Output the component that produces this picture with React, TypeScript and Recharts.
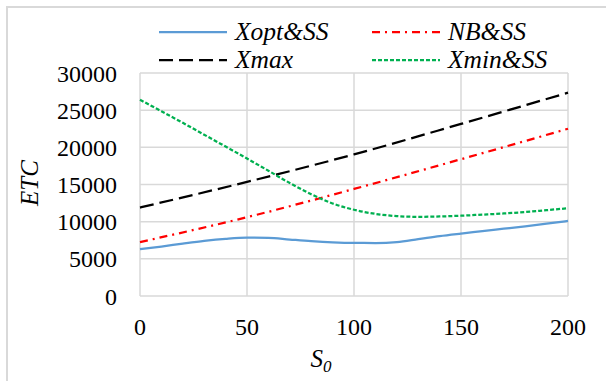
import { LineChart, Line, XAxis, YAxis, CartesianGrid, Label } from "recharts";

// x positions (S0)
const xFine = [0, 10, 20, 30, 40, 50, 60, 70, 80, 90, 100, 110, 120, 130, 140, 150, 160, 170, 180, 190, 200];
const xCoarse = [0, 50, 100, 150, 200];

const xoptSS = [6300, 6650, 7050, 7420, 7700, 7860, 7830, 7600, 7380, 7220, 7140, 7130, 7260, 7650, 8060, 8400, 8720, 9050, 9380, 9730, 10100];
const xminSS = [26400, 24850, 23300, 21700, 20100, 18500, 16850, 15200, 13700, 12450, 11600, 11050, 10750, 10650, 10700, 10800, 10950, 11100, 11300, 11550, 11800];
const nbSS = [7250, 10600, 14400, 18400, 22500];
const xmax = [11900, 15350, 19050, 23150, 27350];

const xTicks = [0, 50, 100, 150, 200];
const yTicks = [0, 5000, 10000, 15000, 20000, 25000, 30000];

const toRows = (xs: number[], ys: number[]) => xs.map((x, i) => ({ x, y: ys[i] }));

const SERIES = [
  { name: "Xopt&SS", data: toRows(xFine, xoptSS), color: "#5B9BD5", dash: undefined, width: 2.25 },
  { name: "NB&SS", data: toRows(xCoarse, nbSS), color: "#FF0000", dash: "8 5 2 5", width: 2.25 },
  { name: "Xmax", data: toRows(xCoarse, xmax), color: "#000000", dash: "14 6", width: 2.25 },
  { name: "Xmin&SS", data: toRows(xFine, xminSS), color: "#00B050", dash: "4 2", width: 2.25 },
];

const FONT = "Liberation Serif";

function ChartLegend() {
  // two rows, two columns, like the Excel legend
  const slots = [
    { x: 159, y: 32 },
    { x: 372, y: 32 },
    { x: 159, y: 60 },
    { x: 372, y: 60 },
  ];
  return (
    <svg width={606} height={73} style={{ position: "absolute", left: 0, top: 0 }}>
      {SERIES.map((s, i) => (
        <g key={s.name}>
          <line
            x1={slots[i].x}
            x2={slots[i].x + 68}
            y1={slots[i].y}
            y2={slots[i].y}
            stroke={s.color}
            strokeWidth={s.width}
            strokeDasharray={s.dash}
          />
          <text x={slots[i].x + 76} y={slots[i].y + 8} fontFamily={FONT} fontStyle="italic" fontSize={25.5} fill="#000">
            {s.name}
          </text>
        </g>
      ))}
    </svg>
  );
}

export default function App() {
  return (
    <div style={{ position: "absolute", left: 0, top: 0, width: 606, height: 381, overflow: "hidden", background: "#fff" }}>
      <div
        style={{
          position: "absolute",
          left: 6,
          top: 6,
          width: 700,
          height: 500,
          borderTop: "2px solid #D9D9D9",
          borderLeft: "2px solid #D9D9D9",
        }}
      />
      <LineChart width={606} height={381} margin={{ top: 73, right: 38, bottom: 0, left: 0 }}>
        <CartesianGrid stroke="#D9D9D9" strokeWidth={1.5} horizontalValues={yTicks} verticalValues={xTicks} />
        <XAxis
          dataKey="x"
          type="number"
          domain={[0, 200]}
          ticks={xTicks}
          interval={0}
          axisLine={false}
          tickLine={false}
          tickSize={0}
          tickMargin={22}
          height={85}
          allowDuplicatedCategory={false}
          tick={{ fill: "#000", fontSize: 24, fontFamily: FONT }}
        >
          <Label
            content={() => (
              <text x={321} y={367} textAnchor="middle" fontFamily={FONT} fontStyle="italic" fontSize={25} fill="#000">
                S
                <tspan fontSize={17} dy={5}>0</tspan>
              </text>
            )}
          />
        </XAxis>
        <YAxis
          type="number"
          domain={[0, 30000]}
          ticks={yTicks}
          interval={0}
          axisLine={false}
          tickLine={false}
          tickSize={0}
          tickMargin={23}
          width={140}
          tick={{ fill: "#000", fontSize: 24, fontFamily: FONT }}
        >
          <Label
            content={() => (
              <text
                x={29}
                y={183}
                transform="rotate(-90 29 183)"
                textAnchor="middle"
                dominantBaseline="central"
                fontFamily={FONT}
                fontStyle="italic"
                fontSize={25}
                fill="#000"
              >
                ETC
              </text>
            )}
          />
        </YAxis>
        {SERIES.map((s) => (
          <Line
            key={s.name}
            data={s.data}
            dataKey="y"
            name={s.name}
            type="monotone"
            stroke={s.color}
            strokeWidth={s.width}
            strokeDasharray={s.dash}
            dot={false}
            activeDot={false}
            isAnimationActive={false}
          />
        ))}
      </LineChart>
      <ChartLegend />
    </div>
  );
}
